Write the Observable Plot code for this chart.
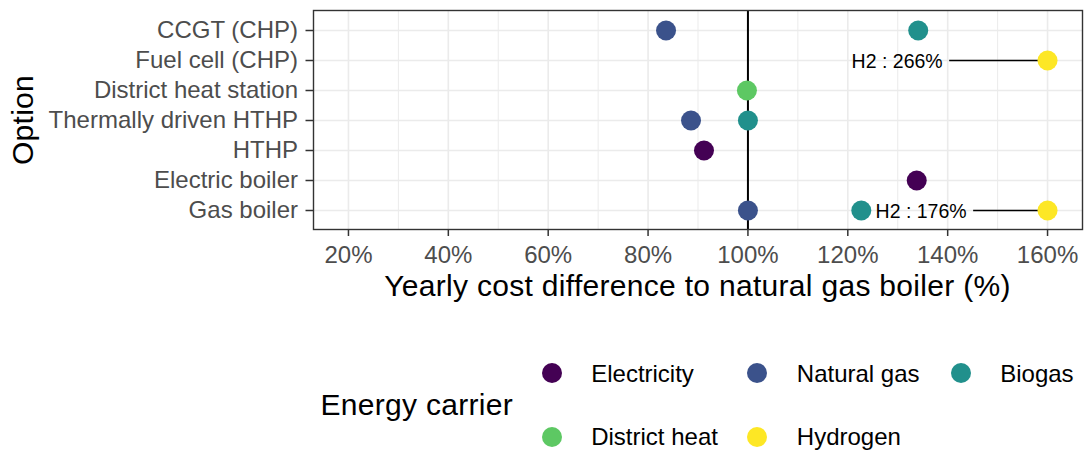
<!DOCTYPE html>
<html>
<head>
<meta charset="utf-8">
<script src="https://cdn.jsdelivr.net/npm/d3@7"></script>
<script src="https://cdn.jsdelivr.net/npm/@observablehq/plot@0.6"></script>
<style>
  html, body { margin: 0; padding: 0; background: #fff; }
  #wrap { position: relative; width: 1085px; height: 450px; font-family: "Liberation Sans", Arial, sans-serif; overflow: hidden; }
  #chart { position: absolute; left: 0; top: 0; }
  .t { position: absolute; white-space: nowrap; color: #000; }
  .dot { position: absolute; width: 20px; height: 20px; border-radius: 50%; }
</style>
</head>
<body>
<div id="wrap">
  <div id="chart"></div>
</div>
<script>
// ---- data ----
const options = ["CCGT (CHP)", "Fuel cell (CHP)", "District heat station", "Thermally driven HTHP", "HTHP", "Electric boiler", "Gas boiler"];
const carriers = ["Electricity", "Natural gas", "Biogas", "District heat", "Hydrogen"];
const carrierColors = ["#440154", "#3B528B", "#21908C", "#5DC863", "#FDE725"];

const pointOption  = ["CCGT (CHP)", "CCGT (CHP)", "Fuel cell (CHP)", "District heat station", "Thermally driven HTHP", "Thermally driven HTHP", "HTHP", "Electric boiler", "Gas boiler", "Gas boiler", "Gas boiler"];
const pointCarrier = ["Natural gas", "Biogas", "Hydrogen", "District heat", "Natural gas", "Biogas", "Electricity", "Electricity", "Natural gas", "Biogas", "Hydrogen"];
const pointValue   = [83.6, 134.1, 160, 99.8, 88.6, 100, 91.2, 133.8, 100, 122.7, 160];

const labelOption = ["Fuel cell (CHP)", "Gas boiler"];
const labelText   = ["H2 : 266%", "H2 : 176%"];
const labelAt     = [139, 143.8];   // where the repelled label ends
const labelTarget = [160, 160];     // capped point value

const xTicks = [20, 40, 60, 80, 100, 120, 140, 160];
const xMinor = [30, 50, 70, 90, 110, 130, 150];
const xDomain = [13, 167];
const referenceValue = [100];

const xTitle = "Yearly cost difference to natural gas boiler (%)";
const yTitle = "Option";
const legendTitle = "Energy carrier";

// ---- tables ----
const points = pointValue.map((v, i) => ({option: pointOption[i], carrier: pointCarrier[i], value: v}));
const labels = labelText.map((t, i) => ({option: labelOption[i], text: t, at: labelAt[i], target: labelTarget[i]}));

const FONT = "Liberation Sans, Arial, sans-serif";

const plot = Plot.plot({
  width: 1085,
  height: 300,
  marginLeft: 313,
  marginRight: 3,
  marginTop: 10,
  marginBottom: 71,
  style: {fontFamily: FONT, background: "transparent", overflow: "visible"},
  x: {domain: xDomain},
  y: {type: "point", domain: options, padding: 0.6},
  color: {domain: carriers, range: carrierColors},
  marks: [
    Plot.frame({fill: "white"}),
    Plot.gridX(xMinor, {stroke: "#EBEBEB", strokeOpacity: 1, strokeWidth: 1}),
    Plot.gridX(xTicks, {stroke: "#EBEBEB", strokeOpacity: 1, strokeWidth: 1.6}),
    Plot.gridY(options, {stroke: "#EBEBEB", strokeOpacity: 1, strokeWidth: 1.6}),
    Plot.ruleX(referenceValue, {stroke: "black", strokeWidth: 2}),
    Plot.link(labels, {x1: d => d.at + 1.3, x2: "target", y1: "option", y2: "option", stroke: "black", strokeWidth: 1.6}),
    Plot.dot(points, {x: "value", y: "option", fill: "carrier", r: 10}),
    Plot.text(labels, {x: "at", y: "option", text: "text", textAnchor: "end", fontSize: 19.5, fill: "black", dy: 1.5}),
    Plot.frame({stroke: "#333333", strokeWidth: 1.4}),
    Plot.axisX(xTicks, {tickFormat: d => d + "%", tickSize: 7, tickPadding: 9, fontSize: 24, fill: "#4D4D4D", stroke: "#333333", strokeWidth: 1.5, label: null}),
    Plot.axisY({tickSize: 7.5, tickPadding: 8, fontSize: 24, fill: "#4D4D4D", stroke: "#333333", strokeWidth: 1.5, label: null})
  ]
});
document.getElementById("chart").appendChild(plot);

// ---- titles & legend (HTML) ----
const wrap = document.getElementById("wrap");
function addText(txt, size, left, baseline, extra = {}) {
  const d = document.createElement("div");
  d.className = "t";
  d.textContent = txt;
  d.style.fontSize = size + "px";
  d.style.lineHeight = size + "px";
  d.style.left = left + "px";
  d.style.top = (baseline - 0.8465 * size) + "px";
  Object.assign(d.style, extra);
  wrap.appendChild(d);
  return d;
}
// x title, centred on panel
addText(xTitle, 30, 313, 296.7, {width: "769px", textAlign: "center", letterSpacing: "0.3px"});
// y title, rotated
{
  const d = document.createElement("div");
  d.className = "t";
  d.textContent = yTitle;
  Object.assign(d.style, {fontSize: "30px", lineHeight: "30px", width: "219px", height: "30px", textAlign: "center",
    letterSpacing: "0.3px",
    left: (22.5 - 109.5) + "px", top: (119.6 - 15) + "px", transform: "rotate(-90deg)", transformOrigin: "50% 50%"});
  wrap.appendChild(d);
}
// legend
addText(legendTitle, 30, 320.5, 415, {letterSpacing: "0.3px"});
const colX = [551.7, 757.3, 960.7];
const rowY = [373.3, 436.7];
carriers.forEach((c, i) => {
  const col = i % 3, row = Math.floor(i / 3);
  const dot = document.createElement("div");
  dot.className = "dot";
  dot.style.background = carrierColors[i];
  dot.style.left = (colX[col] - 10) + "px";
  dot.style.top = (rowY[row] - 10) + "px";
  wrap.appendChild(dot);
  addText(c, 24, colX[col] + 39.5, rowY[row] + 9);
});
</script>
</body>
</html>
